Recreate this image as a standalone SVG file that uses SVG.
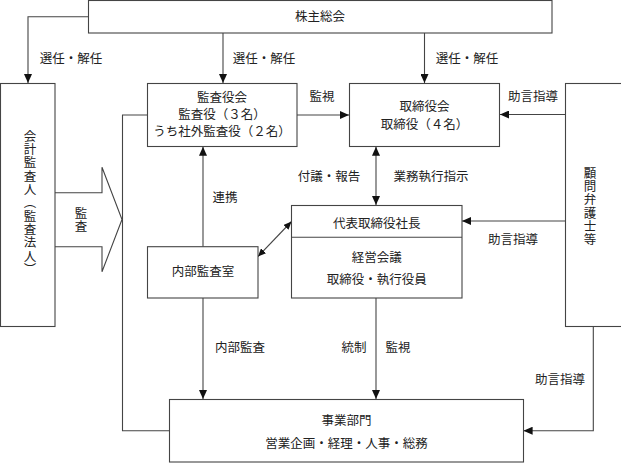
<svg xmlns="http://www.w3.org/2000/svg" width="621" height="463" viewBox="0 0 621 463">
<defs>
<marker id="ah" markerUnits="userSpaceOnUse" markerWidth="9" markerHeight="8" refX="9" refY="4" orient="auto-start-reverse"><path d="M0,0 L9,4 L0,8 z" fill="#111"/></marker>
<marker id="ahs" markerUnits="userSpaceOnUse" markerWidth="8" markerHeight="7" refX="8" refY="3.5" orient="auto-start-reverse"><path d="M0,0 L8,3.5 L0,7 z" fill="#111"/></marker>
<style>
rect,.box{fill:#fff;stroke:#444;stroke-width:1.1}
.c path,.c line{fill:none;stroke:#444;stroke-width:1.1}
text{font-family:"Liberation Serif","Noto Sans CJK JP",serif;font-size:12.5px;fill:#222;text-anchor:middle;dominant-baseline:central}
.v{writing-mode:tb;glyph-orientation-vertical:0;letter-spacing:0.8px}
</style>
</defs>
<rect width="621" height="463" fill="#fff" style="stroke:none"/>

<g id="connectors" class="c">
<path d="M88,16.7 H28 V83" marker-end="url(#ah)"/>
<line x1="223" y1="33" x2="223" y2="83" marker-end="url(#ah)"/>
<line x1="424.5" y1="33" x2="424.5" y2="83" marker-end="url(#ah)"/>
<line x1="297" y1="115" x2="349" y2="115" marker-end="url(#ah)"/>
<line x1="565" y1="114.5" x2="500" y2="114.5" marker-end="url(#ah)"/>
<line x1="203" y1="246.7" x2="203" y2="146.7" marker-end="url(#ah)"/>
<line x1="376" y1="146.7" x2="376" y2="205" marker-start="url(#ah)" marker-end="url(#ah)"/>
<line x1="258" y1="256.5" x2="291.5" y2="221.5" marker-start="url(#ahs)" marker-end="url(#ahs)"/>
<line x1="565" y1="221" x2="462" y2="221" marker-end="url(#ah)"/>
<path d="M147,115 H122.5 V430.7 H169"/>
<line x1="203" y1="298" x2="203" y2="399" marker-end="url(#ah)"/>
<line x1="376" y1="298" x2="376" y2="399" marker-end="url(#ah)"/>
<path d="M593.3,326.5 V430.7 H523.6" marker-end="url(#ah)"/>
<path class="box" d="M55,192.7 H102 V167.3 L122,219.5 L102,271.7 V246.7 H55"/>
</g>

<g id="labels">
<text x="71" y="59">選任・解任</text>
<text x="264" y="59">選任・解任</text>
<text x="467" y="59">選任・解任</text>
<text x="322" y="97">監視</text>
<text x="533" y="97">助言指導</text>
<text x="329" y="176.7">付議・報告</text>
<text x="431" y="176.7">業務執行指示</text>
<text x="225" y="197.7">連携</text>
<text x="513" y="240">助言指導</text>
<text x="240" y="347.7">内部監査</text>
<text x="354" y="347.7">統制</text>
<text x="398" y="347.7">監視</text>
<text x="560" y="380">助言指導</text>
<text class="v" x="79.5" y="220">監査</text>
</g>

<g id="shareholders">
<rect x="88.5" y="0.5" width="463.5" height="32.5"/>
<text x="320" y="17">株主総会</text>
</g>

<g id="auditor">
<rect x="0.5" y="83.5" width="54.5" height="243"/>
<text class="v" x="28.5" y="203">会計監査人（監査法人）</text>
</g>

<g id="audit-board">
<rect x="147.5" y="83.5" width="149.5" height="63"/>
<text x="222" y="98.3">監査役会</text>
<text x="222" y="115">監査役（３名）</text>
<text x="222" y="131.7">うち社外監査役（２名）</text>
</g>

<g id="board">
<rect x="349.5" y="83.5" width="150" height="63"/>
<text x="424.5" y="107">取締役会</text>
<text x="424.5" y="125">取締役（４名）</text>
</g>

<g id="lawyers">
<rect x="565.5" y="83.5" width="60" height="243"/>
<text class="v" x="588.5" y="206.7">顧問弁護士等</text>
</g>

<g id="president">
<rect x="291.5" y="205.5" width="170.5" height="92.5"/>
<line x1="291.5" y1="237.3" x2="462" y2="237.3" style="stroke:#444;stroke-width:1.1"/>
<text x="376.7" y="224.3">代表取締役社長</text>
<text x="376.7" y="258.3">経営会議</text>
<text x="376.7" y="280">取締役・執行役員</text>
</g>

<g id="internal-audit">
<rect x="147.5" y="246.7" width="110.5" height="51.3"/>
<text x="203" y="272.3">内部監査室</text>
</g>

<g id="business">
<rect x="169.5" y="399.5" width="354" height="62.5"/>
<text x="346.5" y="420.7">事業部門</text>
<text x="346.5" y="444">営業企画・経理・人事・総務</text>
</g>
</svg>
